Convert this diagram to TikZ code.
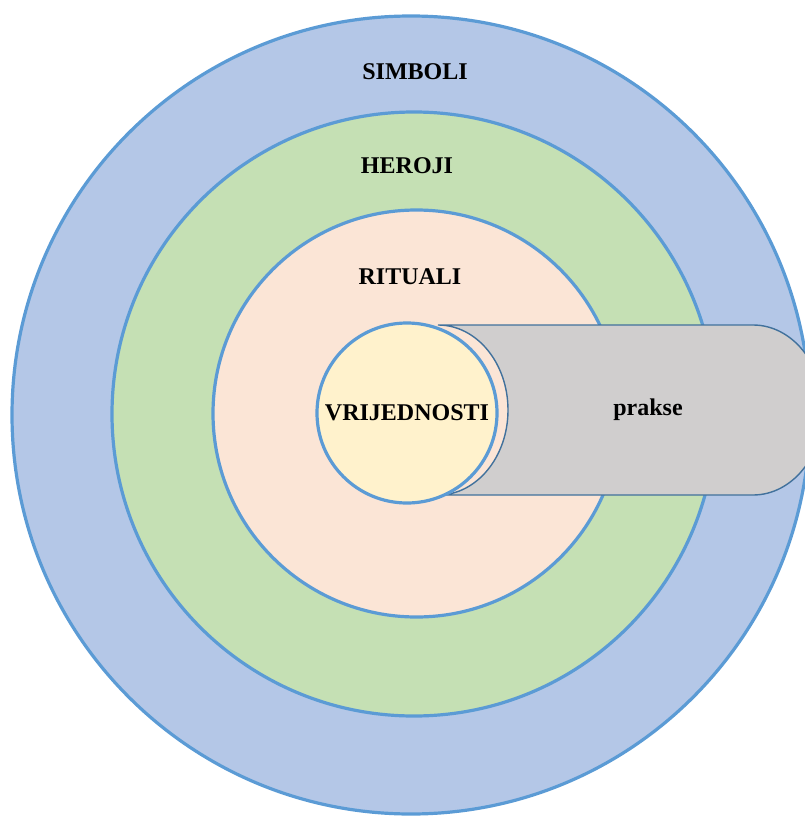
\documentclass[tikz,border=0pt]{standalone}
\usepackage{fontspec}
\setmainfont{Liberation Serif}
\definecolor{ringline}{HTML}{5B9BD5}
\definecolor{symfill}{HTML}{B4C7E7}
\definecolor{herofill}{HTML}{C5E0B4}
\definecolor{ritfill}{HTML}{FBE5D6}
\definecolor{valfill}{HTML}{FFF2CC}
\definecolor{pracfill}{HTML}{D0CECE}
\definecolor{pracline}{HTML}{41719C}
\begin{document}
\begin{tikzpicture}[x=1pt,y=-1pt,
  ring/.style={circle, draw=ringline, line width=3.2pt, inner sep=0pt, outer sep=0pt},
  lbl/.style={font=\bfseries\fontsize{24}{28}\selectfont, text=black, inner sep=0pt},
  practice/.style={draw=pracline, fill=pracfill, line width=1.4pt}]
  \useasboundingbox (0,0) rectangle (805,816);
  \clip (0,0) rectangle (805,816);
  % concentric layers of culture
  \node[ring, fill=symfill,  minimum size=798pt] (symbols) at (411,415) {};
  \node[ring, fill=herofill, minimum size=604pt] (heroes)  at (414,414) {};
  \node[ring, fill=ritfill,  minimum size=407pt] (rituals) at (416.5,413.5) {};
  % practices: a horizontal cylinder reaching out from the core
  \draw[practice] (438,325) -- (753,325)
    arc[start angle=-90, end angle=90, x radius=70, y radius=85]
    -- (438,495)
    arc[start angle=90, end angle=-90, x radius=70, y radius=85]
    -- cycle;
  % core values
  \node[ring, fill=valfill, minimum size=180pt] (values) at (407,413) {};
  % labels
  \node[lbl] (tsym) at (415,72)  {SIMBOLI};
  \node[lbl] (thero) at (407,166) {HEROJI};
  \node[lbl] (trit) at (410,277) {RITUALI};
  \node[lbl] (tval) at (407,413) {VRIJEDNOSTI};
  \node[lbl] (tprac) at (648,410) {prakse};
\end{tikzpicture}
\end{document}
